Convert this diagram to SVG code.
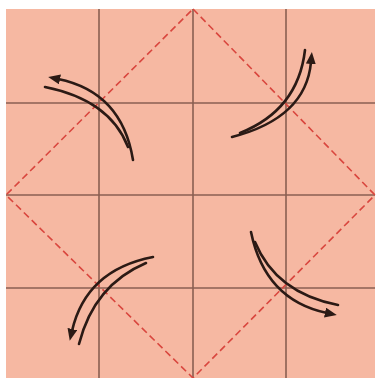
<svg xmlns="http://www.w3.org/2000/svg" width="376" height="378" viewBox="0 0 376 378">
<style>
.grid{stroke:#8a5f52;stroke-width:1.6;fill:none}
.fold{stroke:#d9463e;stroke-width:1.6;stroke-dasharray:7 4;fill:none}
.arr{stroke:#2b1a15;stroke-width:2.6;fill:none;stroke-linecap:round}
</style>
<defs>
<marker id="head" viewBox="0 0 12 10" refX="2" refY="5" markerWidth="12" markerHeight="10" markerUnits="userSpaceOnUse" orient="auto">
<path d="M0,0 L12,5 L0,10 Z" fill="#2b1a15"/>
</marker>
</defs>
<rect width="376" height="378" fill="#ffffff"/>
<g id="paper">
<rect x="6" y="9" width="369" height="369" fill="#f6b8a2"/>
<g class="grid">
<line x1="99" y1="9" x2="99" y2="378"/>
<line x1="193" y1="9" x2="193" y2="378"/>
<line x1="286" y1="9" x2="286" y2="378"/>
<line x1="6" y1="103" x2="375" y2="103"/>
<line x1="6" y1="195" x2="375" y2="195"/>
<line x1="6" y1="288" x2="375" y2="288"/>
</g>
<polygon class="fold" points="193,9 375,195 193,378 6,195"/>
</g>
<g id="connectors">
<g id="arrow-tl">
<path class="arr" d="M133,160 Q122,92 58,79" marker-end="url(#head)"/>
<path class="arr" d="M128,147 Q110,100 45,87"/>
</g>
<g id="arrow-tr">
<path class="arr" d="M232,137 Q306,118 311,62" marker-end="url(#head)"/>
<path class="arr" d="M240,133 Q298,110 305,50"/>
</g>
<g id="arrow-br">
<path class="arr" d="M251,232 Q265,300 327,313" marker-end="url(#head)"/>
<path class="arr" d="M255,242 Q276,293 338,305"/>
</g>
<g id="arrow-bl">
<path class="arr" d="M153,257 Q86,270 72,331" marker-end="url(#head)"/>
<path class="arr" d="M146,263 Q94,285 79,344"/>
</g>
</g>
</svg>
